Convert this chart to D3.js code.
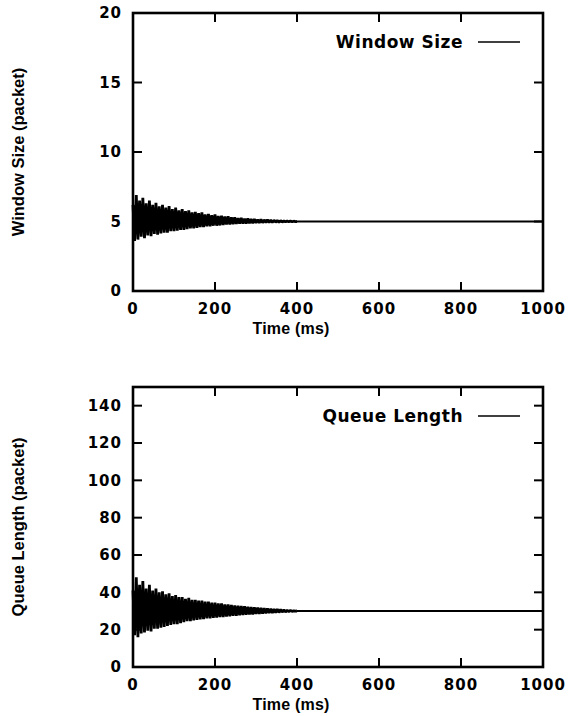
<!DOCTYPE html>
<html>
<head>
<meta charset="utf-8">
<script src="https://cdn.jsdelivr.net/npm/d3@7"></script>
<style>
  html, body { margin: 0; padding: 0; background: #fff; }
  svg text { fill: #000; }
</style>
</head>
<body>
<div id="vis"></div>
<script>
// Two stacked time plots: TCP window size and router queue length.
// Each oscillation cycle is stored as [peak, trough], one cycle per CYCLE_MS.

const CYCLE_MS = 8;
const X_TICKS = [0, 200, 400, 600, 800, 1000];

// ── Window size (packets) ───────────────────────────────────────────────────
const WINDOW_PEAKS = [
  [6.2, 3.6], [6.9, 3.7], [6.5, 3.9], [6.7, 3.8], [6.3, 4.0],
  [6.5, 3.95], [6.2, 4.1], [6.35, 4.05], [6.1, 4.15], [6.2, 4.2],
  [6.0, 4.2], [6.1, 4.3], [5.9, 4.3], [6.0, 4.35], [5.8, 4.4],
  [5.9, 4.4], [5.75, 4.45], [5.8, 4.5], [5.65, 4.5], [5.7, 4.55],
  [5.6, 4.6], [5.65, 4.6], [5.5, 4.65], [5.55, 4.65], [5.45, 4.7],
  [5.5, 4.7], [5.4, 4.72], [5.42, 4.75], [5.35, 4.78], [5.38, 4.78],
  [5.3, 4.8], [5.3, 4.82], [5.25, 4.84], [5.26, 4.85], [5.2, 4.86],
  [5.22, 4.87], [5.17, 4.88], [5.18, 4.9], [5.14, 4.9], [5.15, 4.91],
  [5.12, 4.92], [5.12, 4.93], [5.1, 4.94], [5.09, 4.95], [5.07, 4.95],
  [5.06, 4.96], [5.05, 4.97], [5.04, 4.98], [5.03, 4.98], [5.02, 4.99],
];
const WINDOW_STEADY = [[400, 5], [1000, 5]];
const WINDOW_TICKS = [0, 5, 10, 15, 20];

// ── Queue length (packets) ──────────────────────────────────────────────────
const QUEUE_PEAKS = [
  [41, 17], [48, 16], [44, 18], [46, 18.5], [42, 19.5],
  [44, 19], [41, 20.5], [42, 20.5], [40, 21], [40.5, 21.5],
  [39, 22], [39.5, 22.5], [38, 23], [38.5, 23], [37.5, 23.5],
  [37.5, 24], [36.5, 24.5], [37, 24.5], [36, 25], [36, 25.2],
  [35.5, 25.5], [35.5, 25.7], [35, 26], [35, 26], [34.5, 26.3],
  [34.5, 26.5], [34, 26.7], [34, 26.8], [33.5, 27], [33.5, 27.2],
  [33.2, 27.4], [33, 27.5], [32.8, 27.7], [32.7, 27.8], [32.5, 28],
  [32.3, 28.1], [32.1, 28.2], [32, 28.4], [31.8, 28.5], [31.7, 28.6],
  [31.5, 28.8], [31.4, 28.9], [31.2, 29], [31.1, 29.1], [31, 29.2],
  [30.8, 29.4], [30.6, 29.5], [30.4, 29.7], [30.3, 29.8], [30.1, 29.9],
];
const QUEUE_STEADY = [[400, 30], [1000, 30]];
const QUEUE_TICKS = [0, 20, 40, 60, 80, 100, 120, 140];

const PANELS = [
  { label: "Window Size (packet)", legend: "Window Size", peaks: WINDOW_PEAKS,
    steady: WINDOW_STEADY, yDomain: [0, 20], yTicks: WINDOW_TICKS, top: 13, bottom: 291 },
  { label: "Queue Length (packet)", legend: "Queue Length", peaks: QUEUE_PEAKS,
    steady: QUEUE_STEADY, yDomain: [0, 150], yTicks: QUEUE_TICKS, top: 387, bottom: 667 },
];

const W = 583, H = 716;
const LEFT = 133, RIGHT = 543;
const TICK_FONT = "'DejaVu Sans', 'Liberation Sans', sans-serif";
const LABEL_FONT = "'Liberation Sans', Arial, sans-serif";

const svg = d3.select("#vis").append("svg")
  .attr("width", W)
  .attr("height", H);

const xScale = d3.scaleLinear().domain([0, 1000]).range([LEFT, RIGHT]);

function toPoints(peaks, steady) {
  const pts = [];
  peaks.forEach(([hi, lo], i) => {
    pts.push([i * CYCLE_MS, hi]);
    pts.push([i * CYCLE_MS + CYCLE_MS / 2, lo]);
  });
  pts.push(steady[0]);
  return pts;
}

PANELS.forEach(p => {
  const yScale = d3.scaleLinear().domain(p.yDomain).range([p.bottom, p.top]);
  const line = d3.line().x(d => xScale(d[0])).y(d => yScale(d[1]));
  const g = svg.append("g");

  // dense oscillation reads as a solid band
  g.append("path")
    .datum(toPoints(p.peaks, p.steady))
    .attr("fill", "none")
    .attr("stroke", "#000")
    .attr("stroke-width", 2.8)
    .attr("stroke-linejoin", "bevel")
    .attr("d", line);

  // settled part
  g.append("path")
    .datum(p.steady)
    .attr("fill", "none")
    .attr("stroke", "#000")
    .attr("stroke-width", 1.8)
    .attr("d", line);

  // inward ticks on all four sides
  const tickLen = 9;
  const ticks = g.append("g").attr("stroke", "#000").attr("stroke-width", 2);
  X_TICKS.slice(1, -1).forEach(t => {
    ticks.append("line").attr("x1", xScale(t)).attr("x2", xScale(t))
      .attr("y1", p.bottom).attr("y2", p.bottom - tickLen);
    ticks.append("line").attr("x1", xScale(t)).attr("x2", xScale(t))
      .attr("y1", p.top).attr("y2", p.top + tickLen);
  });
  p.yTicks.forEach(t => {
    if (t === p.yDomain[0] || t === p.yDomain[1]) return;
    ticks.append("line").attr("x1", LEFT).attr("x2", LEFT + tickLen)
      .attr("y1", yScale(t)).attr("y2", yScale(t));
    ticks.append("line").attr("x1", RIGHT).attr("x2", RIGHT - tickLen)
      .attr("y1", yScale(t)).attr("y2", yScale(t));
  });

  // frame
  g.append("rect")
    .attr("x", LEFT).attr("y", p.top)
    .attr("width", RIGHT - LEFT).attr("height", p.bottom - p.top)
    .attr("fill", "none").attr("stroke", "#000").attr("stroke-width", 2.6);

  // y tick labels
  g.append("g").selectAll("text")
    .data(p.yTicks)
    .join("text")
      .attr("x", LEFT - 11)
      .attr("y", d => yScale(d))
      .attr("dy", "0.36em")
      .attr("text-anchor", "end")
      .style("font-family", TICK_FONT)
      .style("font-weight", "bold")
      .style("font-size", "15px")
      .style("letter-spacing", "1px")
      .text(d => d);

  // x tick labels
  g.append("g").selectAll("text")
    .data(X_TICKS)
    .join("text")
      .attr("x", d => xScale(d))
      .attr("y", p.bottom + 23)
      .attr("text-anchor", "middle")
      .style("font-family", TICK_FONT)
      .style("font-weight", "bold")
      .style("font-size", "15px")
      .style("letter-spacing", "1px")
      .text(d => d);

  // x label
  g.append("text")
    .attr("x", 291)
    .attr("y", p.bottom + 43)
    .attr("text-anchor", "middle")
    .style("font-family", LABEL_FONT)
    .style("font-weight", "bold")
    .style("font-size", "16px")
    .style("letter-spacing", "0.2px")
    .text("Time (ms)");

  // y label
  g.append("text")
    .attr("transform", `translate(24,${(p.top + p.bottom) / 2}) rotate(-90)`)
    .attr("text-anchor", "middle")
    .style("font-family", LABEL_FONT)
    .style("font-weight", "bold")
    .style("font-size", "16.5px")
    .text(p.label);

  // legend
  const ly = p.top + 29;
  g.append("text")
    .attr("x", 463)
    .attr("y", ly)
    .attr("dy", "0.36em")
    .attr("text-anchor", "end")
    .style("font-family", TICK_FONT)
    .style("font-weight", "bold")
    .style("font-size", "17px")
    .style("letter-spacing", "0.5px")
    .text(p.legend);
  g.append("line")
    .attr("x1", 478).attr("x2", 520)
    .attr("y1", ly).attr("y2", ly)
    .attr("stroke", "#000").attr("stroke-width", 1.3);
});
</script>
</body>
</html>
